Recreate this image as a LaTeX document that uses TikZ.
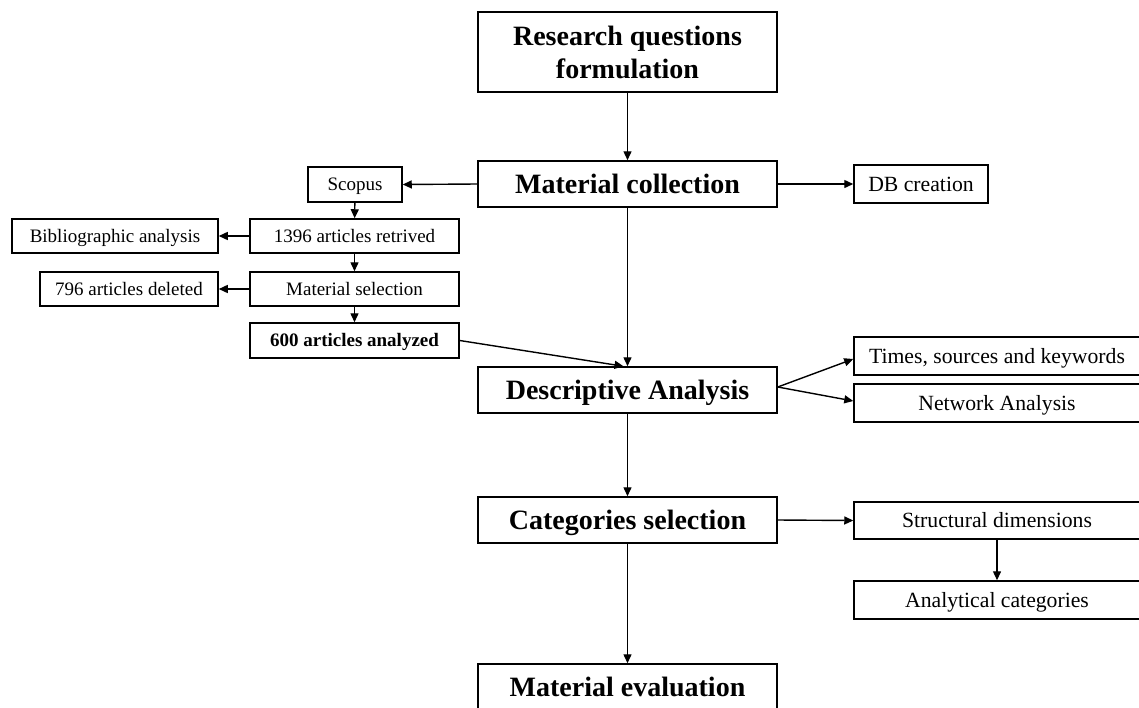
\documentclass[tikz,border=0pt]{standalone}
\usepackage{fontspec}
\setmainfont{Liberation Serif}
\usetikzlibrary{arrows.meta}
\tikzset{
  box/.style={draw, line width=1.5pt, inner sep=0pt, align=center},
  big/.style={box, font=\fontsize{28}{33}\selectfont\bfseries, minimum width=299pt, minimum height=46pt,
    text height=18.5pt, text depth=0pt},
  twoline/.style={box, font=\fontsize{28}{33}\selectfont\bfseries, minimum width=299pt, minimum height=80pt},
  small/.style={box, font=\fontsize{19}{22}\selectfont, minimum height=34pt, text height=12.6pt, text depth=0pt},
  side/.style={box, font=\fontsize{21.7}{25}\selectfont, minimum height=38pt, text height=14.4pt, text depth=0pt},
  link/.style={line width=1.4pt, -{Triangle[length=9pt,width=8pt]}}
}
\begin{document}
\begin{tikzpicture}[x=1pt, y=-1pt]
  \useasboundingbox (0,0) rectangle (1139,707);

  % main column
  \node[twoline] (rq) at (627.5,52) {Research questions\\formulation};
  \node[big] (mc) at (627.5,184) {Material collection};
  \node[big] (da) at (627.5,390) {Descriptive Analysis};
  \node[big] (cs) at (627.5,520) {Categories selection};
  \node[big] (me) at (627.5,687) {Material evaluation};

  % literature search branch
  \node[small, minimum width=94pt, minimum height=35pt] (sc) at (355,184.5) {Scopus};
  \node[small, minimum width=209pt] (ar) at (354.5,236) {1396 articles retrived};
  \node[small, minimum width=206pt] (ba) at (115,236) {Bibliographic analysis};
  \node[small, minimum width=209pt] (ms) at (354.5,289) {Material selection};
  \node[small, minimum width=178pt] (ad) at (129,289) {796 articles deleted};
  \node[small, minimum width=209pt, minimum height=35pt, font=\fontsize{19}{22}\selectfont\bfseries] (aa) at (354.5,340.5) {600 articles analyzed};

  % outputs on the right
  \node[side, minimum width=134pt] (db) at (921,184) {DB creation};
  \node[side, minimum width=286pt] (ts) at (997,356) {Times, sources and keywords};
  \node[side, minimum width=286pt] (na) at (997,403) {Network Analysis};
  \node[side, minimum width=286pt, minimum height=37pt] (sd) at (997,520.5) {Structural dimensions};
  \node[side, minimum width=286pt] (ac) at (997,600) {Analytical categories};

  % connectors
  \draw[link] (rq) -- (mc);
  \draw[link] (mc) -- (da);
  \draw[link] (da) -- (cs);
  \draw[link] (cs) -- (me);
  \draw[link] (mc.west) -- (sc.east);
  \draw[link] (mc.east) -- (db.west);
  \draw[link] (sc) -- (ar);
  \draw[link] (ar.west) -- (ba.east);
  \draw[link] (ar) -- (ms);
  \draw[link] (ms.west) -- (ad.east);
  \draw[link] (ms) -- (aa);
  \draw[link] (aa.east) -- ([xshift=-4pt]da.north);
  \draw[link] ([yshift=3pt]da.east) -- ([yshift=-3pt]ts.west);
  \draw[link] ([yshift=3pt]da.east) -- ([yshift=2pt]na.west);
  \draw[link] (cs.east) -- (sd.west);
  \draw[link] (sd) -- (ac);
\end{tikzpicture}
\end{document}
